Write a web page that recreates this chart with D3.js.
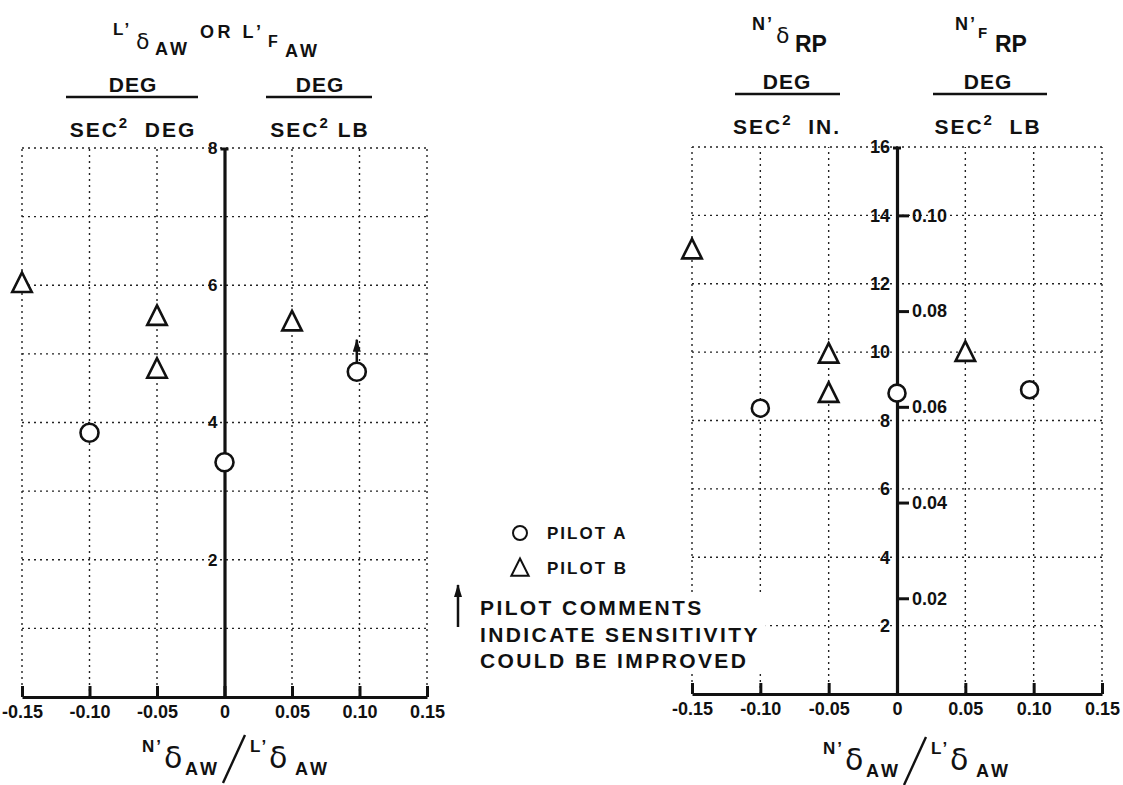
<!DOCTYPE html>
<html>
<head>
<meta charset="utf-8">
<script src="https://cdn.jsdelivr.net/npm/d3@7"></script>
<style>
  body { margin: 0; background: #fff; }
  text { font-family: 'Liberation Sans', Arial, sans-serif; font-weight: bold; fill: #111; }
  .greek { font-family: 'DejaVu Sans', sans-serif; font-weight: normal; }
</style>
</head>
<body>
<svg id="chart" width="1123" height="785"></svg>
<script>
// x axis, shared by both panels
const xTicks = [-0.15, -0.1, -0.05, 0, 0.05, 0.1, 0.15]
const xTickLabels = ['-0.15', '-0.10', '-0.05', '0', '0.05', '0.10', '0.15']

// left panel (L'dAW or L'FAW)
const leftYMax = 8
const leftYTicks = [2, 4, 6, 8]
const leftGridY = [1, 2, 3, 4, 5, 6, 7, 8]
const leftPilotA = [
  { x: -0.1, y: 3.85 },
  { x: 0, y: 3.42 },
  { x: 0.098, y: 4.74, comment: true }
]
const leftPilotB = [
  { x: -0.15, y: 6.03 },
  { x: -0.05, y: 5.55 },
  { x: -0.05, y: 4.78 },
  { x: 0.05, y: 5.47 }
]

// right panel (N'dRP and N'FRP)
const rightYMax = 16
const rightYTicks = [2, 4, 6, 8, 10, 12, 14, 16]
const rightGridY = [2, 4, 6, 8, 10, 12, 14, 16]
const rightY2Ticks = [0.02, 0.04, 0.06, 0.08, 0.1]
const rightY2Labels = ['0.02', '0.04', '0.06', '0.08', '0.10']
const rightY2Factor = 140 // deg/in per deg/lb between the two scales
const rightPilotA = [
  { x: -0.1, y: 8.36 },
  { x: 0, y: 8.8 },
  { x: 0.097, y: 8.9 }
]
const rightPilotB = [
  { x: -0.15, y: 13.0 },
  { x: -0.05, y: 9.95 },
  { x: -0.05, y: 8.8 },
  { x: 0.05, y: 10.0 }
]

const svg = d3.select('#chart')

const defs = svg.append('defs')
defs
  .append('marker')
  .attr('id', 'head')
  .attr('viewBox', '0 0 13 8')
  .attr('refX', 12)
  .attr('refY', 4)
  .attr('markerWidth', 13)
  .attr('markerHeight', 8)
  .attr('markerUnits', 'userSpaceOnUse')
  .attr('orient', 'auto')
  .append('path')
  .attr('d', 'M0,0 L13,4 L0,8 Z')
  .attr('fill', '#111')

// open triangle, a bit taller than equilateral like the original
const triangle = {
  draw(ctx, size) {
    const s = Math.sqrt(size) / 2
    ctx.moveTo(0, -s * 1.1)
    ctx.lineTo(s, s * 0.9)
    ctx.lineTo(-s, s * 0.9)
    ctx.closePath()
  }
}

function drawPanel(p) {
  const x = d3.scaleLinear().domain([-0.15, 0.15]).range(p.xRange)
  const y = d3.scaleLinear().domain([0, p.yMax]).range(p.yRange)
  const g = svg.append('g')

  // dotted grid
  const grid = g.append('g').attr('stroke', '#222').attr('stroke-width', 1.4).attr('stroke-dasharray', '2,4')
  grid
    .selectAll('.gx')
    .data(xTicks.filter(d => d !== 0))
    .enter()
    .append('line')
    .attr('x1', d => x(d))
    .attr('x2', d => x(d))
    .attr('y1', y(0))
    .attr('y2', y(p.yMax))
  grid
    .selectAll('.gy')
    .data(p.gridY)
    .enter()
    .append('line')
    .attr('x1', x(-0.15))
    .attr('x2', x(0.15))
    .attr('y1', d => y(d))
    .attr('y2', d => y(d))

  // bottom axis, ticks pointing up
  const xAxis = g
    .append('g')
    .attr('transform', 'translate(0,' + y(0) + ')')
    .call(
      d3
        .axisBottom(x)
        .tickValues(xTicks)
        .tickFormat((d, i) => xTickLabels[i])
        .tickSizeInner(-11)
        .tickSizeOuter(0)
        .tickPadding(8)
    )
  xAxis.select('.domain').attr('stroke', '#111').attr('stroke-width', 3.2)
  xAxis.selectAll('.tick line').attr('stroke', '#111').attr('stroke-width', 3)
  xAxis
    .selectAll('.tick text')
    .attr('font-size', 18)
    .attr('font-family', null)
    .attr('fill', '#111')
    .attr('dy', '0.72em')

  // vertical axis at x = 0
  const yAxis = g
    .append('g')
    .attr('transform', 'translate(' + x(0) + ',0)')
    .call(
      d3
        .axisLeft(y)
        .tickValues(p.yTicks)
        .tickSizeInner(0)
        .tickSizeOuter(0)
        .tickPadding(7)
    )
  yAxis.select('.domain').attr('stroke', '#111').attr('stroke-width', 3.2)
  yAxis
    .selectAll('.tick text')
    .attr('font-size', p.yFont)
    .attr('font-family', null)
    .attr('fill', '#111')
  // small cap at the top of the axis
  g.append('line')
    .attr('x1', x(0) - 4)
    .attr('x2', x(0) + 4)
    .attr('y1', y(p.yMax) + 1)
    .attr('y2', y(p.yMax) + 1)
    .attr('stroke', '#111')
    .attr('stroke-width', 3)

  if (p.y2Ticks) {
    const y2 = d3
      .scaleLinear()
      .domain([0, p.yMax / p.y2Factor])
      .range(p.yRange)
    const y2Axis = g
      .append('g')
      .attr('transform', 'translate(' + x(0) + ',0)')
      .call(
        d3
          .axisRight(y2)
          .tickValues(p.y2Ticks)
          .tickFormat((d, i) => p.y2Labels[i])
          .tickSizeInner(12)
          .tickSizeOuter(0)
          .tickPadding(3)
      )
    y2Axis.select('.domain').remove()
    y2Axis.selectAll('.tick line').attr('stroke', '#111').attr('stroke-width', 3)
    y2Axis
      .selectAll('.tick text')
      .attr('font-size', 18)
      .attr('font-family', null)
      .attr('fill', '#111')
  }

  // pilot comment arrows
  g.selectAll('.comment')
    .data(p.pilotA.filter(d => d.comment))
    .enter()
    .append('line')
    .attr('x1', d => x(d.x))
    .attr('x2', d => x(d.x))
    .attr('y1', d => y(d.y) - 9)
    .attr('y2', d => y(d.y) - 32)
    .attr('stroke', '#111')
    .attr('stroke-width', 2.5)
    .attr('marker-end', 'url(#head)')

  g.selectAll('.pilot-a')
    .data(p.pilotA)
    .enter()
    .append('circle')
    .attr('cx', d => x(d.x))
    .attr('cy', d => y(d.y))
    .attr('r', p.r)
    .attr('fill', '#fff')
    .attr('stroke', '#111')
    .attr('stroke-width', 2.6)

  g.selectAll('.pilot-b')
    .data(p.pilotB)
    .enter()
    .append('path')
    .attr('transform', d => 'translate(' + x(d.x) + ',' + y(d.y) + ')')
    .attr('d', d3.symbol().type(triangle).size(380))
    .attr('fill', '#fff')
    .attr('stroke', '#111')
    .attr('stroke-width', 2.6)
}

drawPanel({
  xRange: [22, 427],
  yRange: [697, 148],
  yMax: leftYMax,
  yTicks: leftYTicks,
  gridY: leftGridY,
  yFont: 17,
  pilotA: leftPilotA,
  pilotB: leftPilotB,
  r: 9
})

drawPanel({
  xRange: [692, 1102],
  yRange: [694, 147],
  yMax: rightYMax,
  yTicks: rightYTicks,
  gridY: rightGridY,
  yFont: 18,
  y2Ticks: rightY2Ticks,
  y2Labels: rightY2Labels,
  y2Factor: rightY2Factor,
  pilotA: rightPilotA,
  pilotB: rightPilotB,
  r: 8.5
})

// ---- headers ----
function piece(str, x, y, size, ls, cls) {
  svg
    .append('text')
    .attr('class', cls || null)
    .attr('x', x)
    .attr('y', y)
    .attr('font-size', size)
    .attr('letter-spacing', ls || 0)
    .text(str)
}

// L'δAW OR L'FAW
piece('L’', 113, 35, 17, 2)
piece('δ', 136, 49, 22, 0, 'greek')
piece('AW', 155, 55, 18, 3)
piece('OR L’', 200, 38, 18, 3.5)
piece('F', 268, 47, 16, 0)
piece('AW', 285, 57, 18, 3)

// N'δRP      N'FRP
piece('N’', 752, 30, 18, 2)
piece('δ', 776, 43, 22, 0, 'greek')
piece('RP', 795, 52, 23, 0)
piece('N’', 955, 30, 18, 2)
piece('F', 978, 38, 15, 0)
piece('RP', 995, 52, 23, 0)

function fraction(cx, x1, x2, yLine, bottom) {
  svg
    .append('text')
    .attr('x', cx)
    .attr('y', yLine - 5)
    .attr('text-anchor', 'middle')
    .attr('font-size', 21)
    .attr('letter-spacing', 1)
    .text('DEG')
  svg
    .append('line')
    .attr('x1', x1)
    .attr('x2', x2)
    .attr('y1', yLine)
    .attr('y2', yLine)
    .attr('stroke', '#111')
    .attr('stroke-width', 2.5)
  const t = svg
    .append('text')
    .attr('x', cx)
    .attr('y', yLine + 40)
    .attr('text-anchor', 'middle')
    .attr('font-size', 21)
    .attr('letter-spacing', 2)
  t.append('tspan').text(bottom[0])
  t.append('tspan').attr('font-size', 15).attr('dy', -9).text('2')
  t.append('tspan').attr('dy', 9).text(bottom[1])
}

fraction(133, 66, 198, 97, ['SEC', '\u00a0 DEG'])
fraction(320, 266, 372, 97, ['SEC', ' LB'])
fraction(787, 735, 840, 94, ['SEC', '\u00a0 IN.'])
fraction(988, 933, 1047, 94, ['SEC', '\u00a0 LB'])

// ---- x axis titles ----
function xTitle(x0, y0) {
  piece('N’', x0, y0 + 12, 17, 2)
  piece('δ', x0 + 22, y0 + 28, 30, 0, 'greek')
  piece('AW', x0 + 43, y0 + 35, 18, 3)
  svg
    .append('line')
    .attr('x1', x0 + 81)
    .attr('y1', y0 + 43)
    .attr('x2', x0 + 103)
    .attr('y2', y0 - 5)
    .attr('stroke', '#111')
    .attr('stroke-width', 2.4)
  piece('L’', x0 + 108, y0 + 12, 17, 2)
  piece('δ', x0 + 127, y0 + 28, 30, 0, 'greek')
  piece('AW', x0 + 153, y0 + 35, 18, 3)
}
xTitle(142, 740)
xTitle(823, 742)

// ---- legend ----
const legendItems = ['PILOT A', 'PILOT B']
const legend = svg.append('g')
legend
  .append('circle')
  .attr('cx', 520)
  .attr('cy', 533)
  .attr('r', 7)
  .attr('fill', '#fff')
  .attr('stroke', '#111')
  .attr('stroke-width', 2)
legend
  .append('path')
  .attr('transform', 'translate(520,568)')
  .attr('d', d3.symbol().type(triangle).size(300))
  .attr('fill', '#fff')
  .attr('stroke', '#111')
  .attr('stroke-width', 2)
legend
  .selectAll('.legend-label')
  .data(legendItems)
  .enter()
  .append('text')
  .attr('x', 547)
  .attr('y', (d, i) => 539 + i * 35)
  .attr('font-size', 17)
  .attr('letter-spacing', 2)
  .text(d => d)

const noteLines = ['PILOT COMMENTS', 'INDICATE SENSITIVITY', 'COULD BE IMPROVED']
const note = svg.append('g')
const noteBg = note.append('rect').attr('fill', '#fff')
note
  .selectAll('.note')
  .data(noteLines)
  .enter()
  .append('text')
  .attr('x', 480)
  .attr('y', (d, i) => 615 + i * 26.5)
  .attr('font-size', 21)
  .attr('letter-spacing', 2.4)
  .text(d => d)
const bb = note.node().getBBox()
noteBg
  .attr('x', bb.x - 4)
  .attr('y', bb.y - 4)
  .attr('width', bb.width + 10)
  .attr('height', bb.height + 6)
note
  .append('line')
  .attr('x1', 458)
  .attr('x2', 458)
  .attr('y1', 627)
  .attr('y2', 585)
  .attr('stroke', '#111')
  .attr('stroke-width', 2.5)
  .attr('marker-end', 'url(#head)')
</script>
</body>
</html>
